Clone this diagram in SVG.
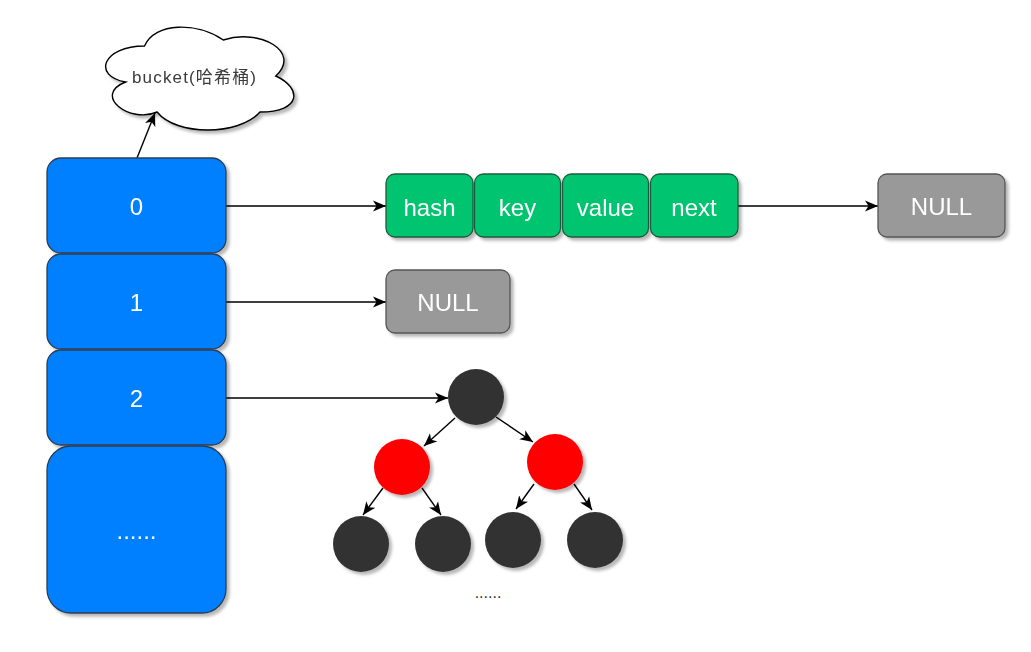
<svg xmlns="http://www.w3.org/2000/svg" width="1031" height="652" viewBox="0 0 1031 652">
<style>
.bucket{fill:#007FFF;stroke:#2b3e50;stroke-width:1.3}
.field{fill:#05C46F;stroke:#1f5a3c;stroke-width:1.3}
.null{fill:#999999;stroke:#555555;stroke-width:1.3}
.black{fill:#333333}
.red{fill:#FF0000}
.wt{fill:#ffffff;font-family:"Liberation Sans",Arial,sans-serif;font-size:24px;text-anchor:middle;dominant-baseline:central}
.conn{stroke:#000;stroke-width:1.4;fill:none;marker-end:url(#ah)}
.sh{filter:url(#shadow)}
</style>
<defs>
<filter id="shadow" x="-20%" y="-20%" width="150%" height="150%">
<feDropShadow dx="3" dy="3" stdDeviation="1.5" flood-color="#000" flood-opacity="0.28"/>
</filter>
<marker id="ah" markerWidth="14" markerHeight="12" refX="13" refY="6" orient="auto" markerUnits="userSpaceOnUse">
<path d="M0,0.5 L13,6 L0,11.5 L3.5,6 Z" fill="#000"/>
</marker>
</defs>

<g id="connectors">
<line class="conn" x1="137" y1="158" x2="155" y2="113"/>
<line class="conn" x1="226" y1="206" x2="386" y2="206"/>
<line class="conn" x1="738" y1="206" x2="878" y2="206"/>
<line class="conn" x1="226" y1="302" x2="386" y2="302"/>
<line class="conn" x1="226" y1="398" x2="448" y2="398"/>
<line class="conn" x1="455" y1="418" x2="424" y2="446"/>
<line class="conn" x1="496" y1="417" x2="533" y2="442"/>
<line class="conn" x1="383" y1="488" x2="363" y2="515"/>
<line class="conn" x1="422" y1="488" x2="441" y2="515"/>
<line class="conn" x1="534" y1="484" x2="516" y2="509"/>
<line class="conn" x1="574" y1="484" x2="592" y2="510"/>
</g>

<g id="cloud" class="sh">
<path d="M144.5 46 C102.5 46 92 76 125.6 82 C92 95.2 129.8 124 157.1 112 C176 136 239 136 260 112 C302 112 302 88 275.75 76 C302 52 260 28 223.25 40 C197 22 155 22 144.5 46 Z" fill="#ffffff" stroke="#000" stroke-width="1.4"/>
<text x="194" y="77" font-family="'Liberation Sans','Noto Sans CJK SC',sans-serif" font-size="17" fill="#3a3a3a" text-anchor="middle" dominant-baseline="central" textLength="124" lengthAdjust="spacing">bucket(哈希桶)</text>
</g>

<g id="bucket0" class="sh"><rect class="bucket" x="47" y="158" width="179" height="95" rx="14"/><text class="wt" x="136.5" y="206">0</text></g>
<g id="bucket1" class="sh"><rect class="bucket" x="47" y="254" width="179" height="95" rx="14"/><text class="wt" x="136.5" y="302">1</text></g>
<g id="bucket2" class="sh"><rect class="bucket" x="47" y="350" width="179" height="95" rx="14"/><text class="wt" x="136.5" y="398">2</text></g>
<g id="bucketMore" class="sh"><rect class="bucket" x="47" y="446" width="179" height="167" rx="24"/><text class="wt" x="136.5" y="530">......</text></g>

<g id="hash" class="sh"><rect class="field" x="386" y="174" width="87" height="63" rx="9"/><text class="wt" x="429.5" y="207">hash</text></g>
<g id="key" class="sh"><rect class="field" x="474.5" y="174" width="86" height="63" rx="9"/><text class="wt" x="517.5" y="207">key</text></g>
<g id="value" class="sh"><rect class="field" x="562.5" y="174" width="86" height="63" rx="9"/><text class="wt" x="605.5" y="207">value</text></g>
<g id="next" class="sh"><rect class="field" x="650.5" y="174" width="87.5" height="63" rx="9"/><text class="wt" x="694" y="207">next</text></g>

<g id="null1" class="sh"><rect class="null" x="878" y="174" width="127" height="63" rx="9"/><text class="wt" x="941.5" y="206">NULL</text></g>
<g id="null2" class="sh"><rect class="null" x="386" y="270" width="124" height="63" rx="9"/><text class="wt" x="448" y="302">NULL</text></g>

<g id="root" class="sh"><circle class="black" cx="476" cy="397" r="28"/></g>
<g id="redLeft" class="sh"><circle class="red" cx="402" cy="467" r="28"/></g>
<g id="redRight" class="sh"><circle class="red" cx="555" cy="462" r="28"/></g>
<g id="leaf1" class="sh"><circle class="black" cx="361" cy="544" r="28"/></g>
<g id="leaf2" class="sh"><circle class="black" cx="443" cy="544" r="28"/></g>
<g id="leaf3" class="sh"><circle class="black" cx="513" cy="540" r="28"/></g>
<g id="leaf4" class="sh"><circle class="black" cx="595" cy="540" r="28"/></g>

<g id="treeMore"><text x="488" y="598" font-family="'Liberation Sans',Arial,sans-serif" font-size="16" fill="#333" text-anchor="middle">......</text></g>
</svg>
